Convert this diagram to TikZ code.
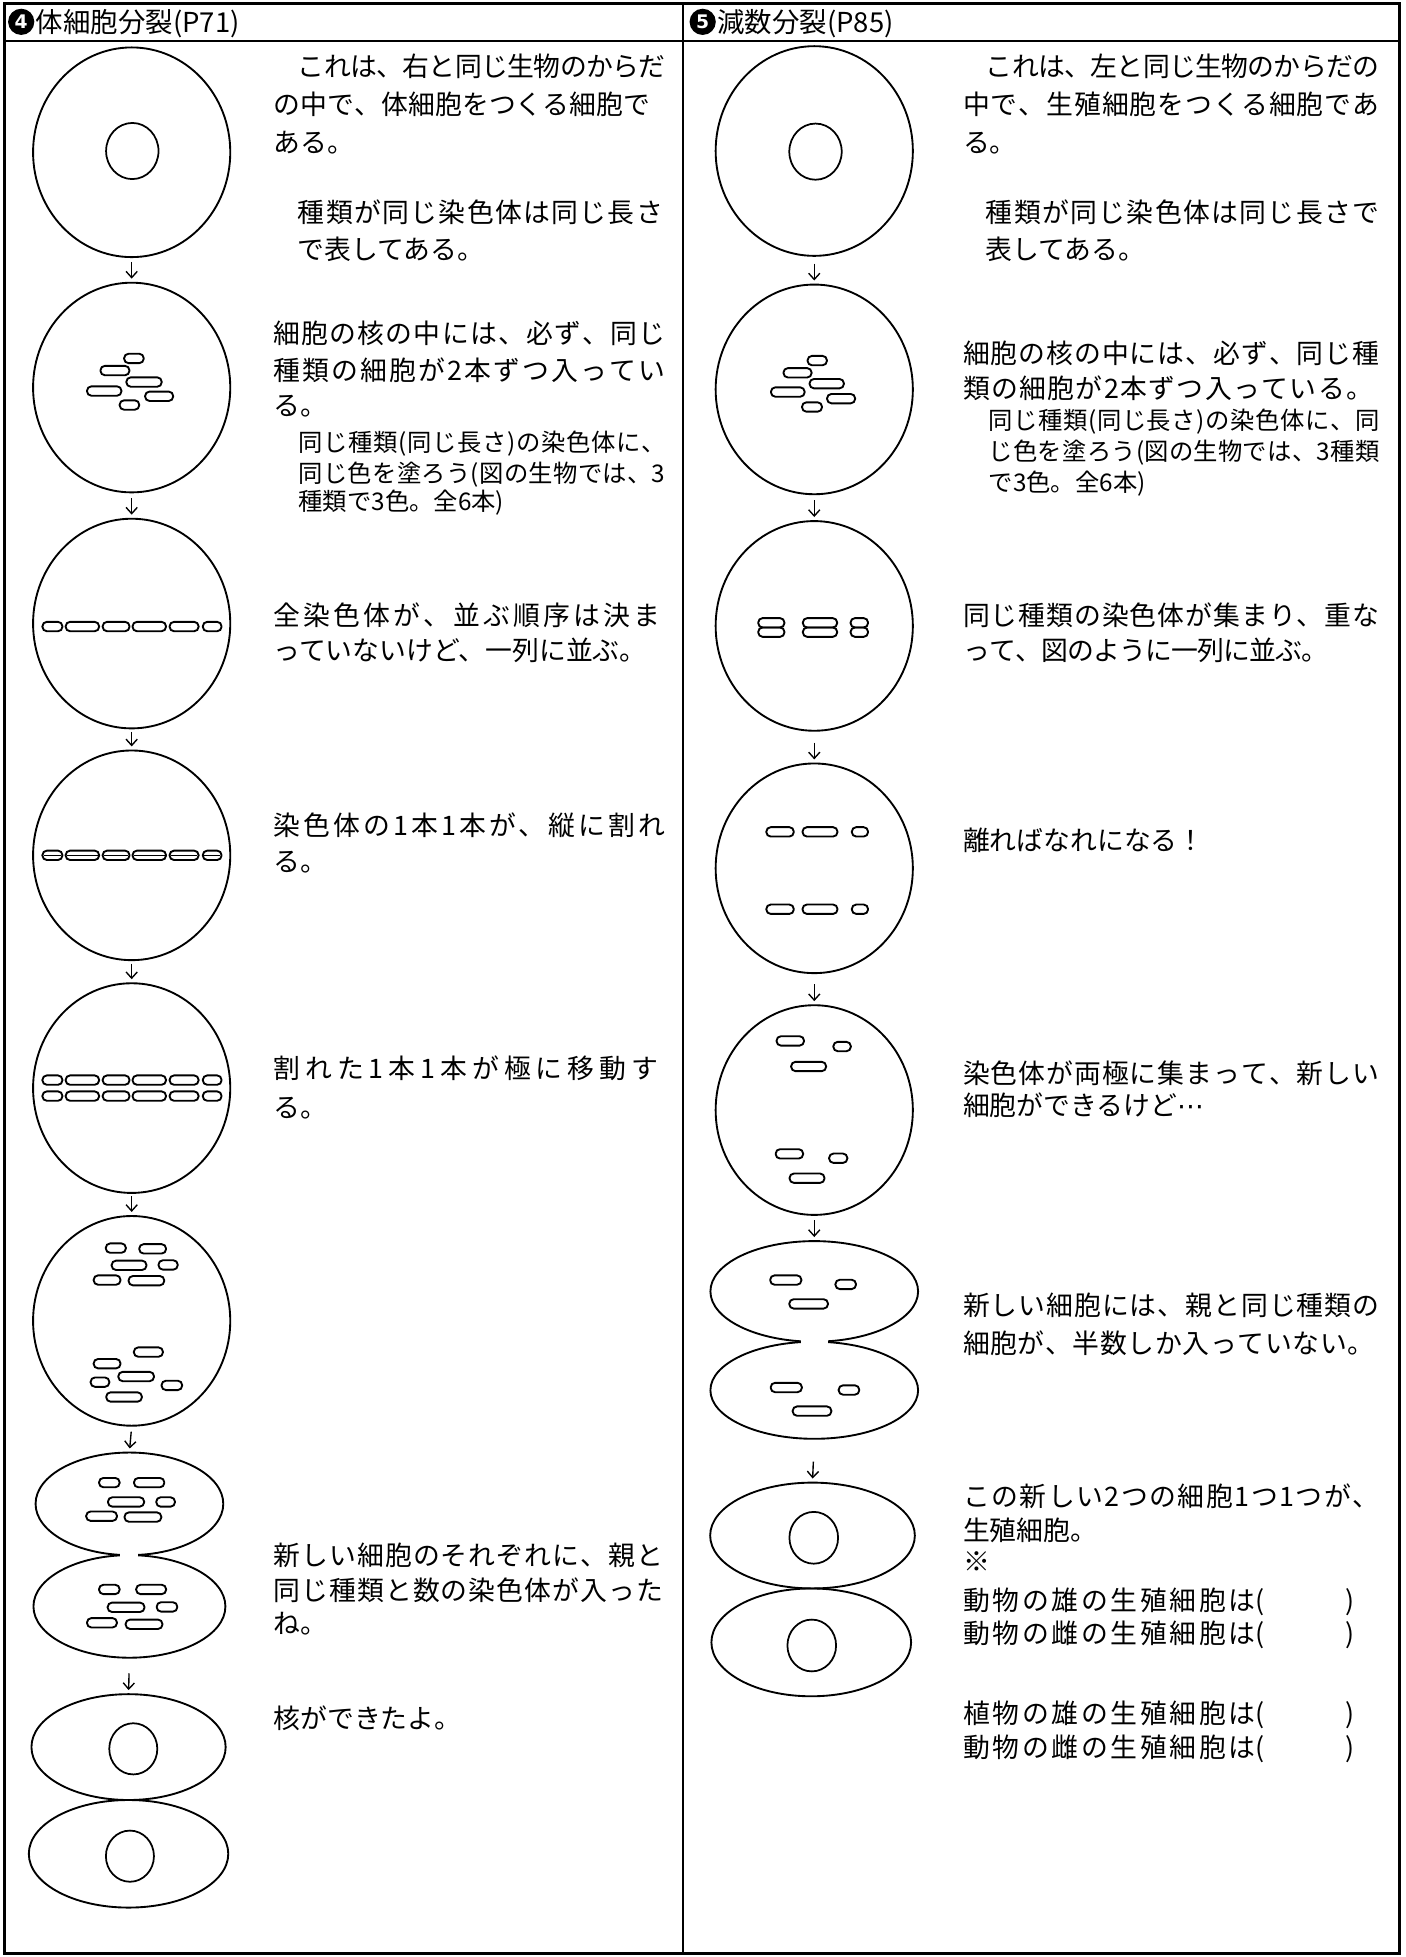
\documentclass[tikz,border=0pt]{standalone}
\usepackage{fontspec}
\setmainfont{Noto Sans CJK JP}
\newfontfamily\djv{DejaVu Sans}
\usetikzlibrary{shapes.geometric,arrows.meta}

% spread the characters of one line evenly over a given width
\def\spEnd{spEndMarker}
\newcommand\spreadto[2]{\hbox to #1{\spA#2\spEnd}}
\def\spA#1{#1\spB}
\def\spB#1{\ifx#1\spEnd\else\hskip 0pt plus 1fil minus 1fil\relax#1\expandafter\spB\fi}

% chromosome: centre x, centre y, length
\newcommand\chro[3]{\draw[chr] ({#1-#3/2},{#2-3.75}) rectangle ({#1+#3/2},{#2+3.75});}
% chromosome split lengthwise
\newcommand\chrs[3]{\chro{#1}{#2}{#3}\draw[line width=1.1pt] ({#1-#3/2+1},#2) -- ({#1+#3/2-1},#2);}
% the six chromosomes lined up on the equator (#1 = y, #2 = drawing macro)
\newcommand\sixrow[2]{#2{42}{#1}{16}#2{66}{#1}{26.8}#2{93}{#1}{21.5}#2{119.6}{#1}{26.8}#2{147.5}{#1}{23.2}#2{170}{#1}{15}}
% centred ellipsis
\newcommand\mdots{{\djv\fontsize{21.5pt}{21.5pt}\selectfont ⋯}}

\tikzset{
  cell/.style={ellipse, draw, line width=1.5pt, minimum width=158pt, minimum height=168pt, inner sep=0pt},
  halfcell/.style={ellipse, draw, line width=1.5pt, inner sep=0pt},
  nuc/.style={ellipse, draw, line width=1.4pt, inner sep=0pt},
  chr/.style={line width=1.5pt, rounded corners=3.5pt},
  arr/.style={line width=1.1pt, -{Straight Barb[length=5pt,width=9pt]}, shorten >=2.5pt},
  txt/.style={anchor=west, inner sep=0pt, font=\fontsize{21.5pt}{21.5pt}\selectfont, text height=17.8pt, text depth=1.5pt},
  sml/.style={anchor=west, inner sep=0pt, font=\fontsize{19.5pt}{19.5pt}\selectfont, text height=16.2pt, text depth=1.4pt},
  hdr/.style={anchor=west, inner sep=0pt, font=\fontsize{22pt}{22pt}\selectfont, text height=18.2pt, text depth=1.5pt},
  badge/.style={circle, fill=black, text=white, inner sep=0pt, minimum size=21pt, font=\djv\bfseries\fontsize{15pt}{15pt}\selectfont},
  paren/.style={anchor=center, inner sep=0pt, font=\fontsize{21.5pt}{21.5pt}\selectfont, text height=17.8pt, text depth=1.5pt},
}

\begin{document}
\begin{tikzpicture}[x=1pt,y=-1pt]
\useasboundingbox (0,0) rectangle (1126,1568);
\fill[white] (0,0) rectangle (1126,1568);

% ---------- table frame ----------
\draw[line width=2.6pt] (3.5,3) rectangle (1121,1565);
\draw[line width=2pt] (3.5,33) -- (1121,33);
\draw[line width=2pt] (547.3,3) -- (547.3,1565);

% ---------- headers ----------
\node[badge] (b4) at (17,17.5) {4};
\node[hdr] (h4) at (28.5,17.5) {体細胞分裂(P71)};
\node[badge] (b5) at (563,17.5) {5};
\node[hdr] (h5) at (574.5,17.5) {減数分裂(P85)};

% =========== left column: body cell division ===========
\node[cell] (L1) at (105.5,122) {};
\node[nuc, minimum width=42pt, minimum height=45pt] (L1n) at (106,121) {};
\node[cell] (L2) at (105.5,310.5) {};
\node[cell] (L3) at (105.5,499.6) {};
\node[cell] (L4) at (105.5,685.3) {};
\node[cell] (L5) at (105.5,871.8) {};
\node[cell] (L6) at (105.5,1058.3) {};
\node[halfcell, minimum width=150.4pt, minimum height=82.2pt] (L7u) at (103.7,1204.9) {};
\node[halfcell, minimum width=153.8pt, minimum height=82.2pt] (L7l) at (103.7,1287.1) {};
\fill[white] (96.5,1243.5) rectangle (110.9,1248.5);
\node[halfcell, minimum width=155.6pt, minimum height=84.8pt] (L8u) at (103,1399.8) {};
\node[halfcell, minimum width=159.8pt, minimum height=86.2pt] (L8l) at (103,1485.3) {};
\node[nuc, minimum width=38.5pt, minimum height=41pt] (L8un) at (106.8,1401.2) {};
\node[nuc, minimum width=38.5pt, minimum height=41pt] (L8ln) at (104.1,1487.2) {};

\draw[arr, shorten <=3pt] (L1.south) -- (L2.north);
\draw[arr, shorten <=3.6pt] (L2.south) -- (L3.north);
\draw[arr, shorten <=2pt] (L3.south) -- (L4.north);
\draw[arr, shorten <=2pt] (L4.south) -- (L5.north);
\draw[arr, shorten <=2pt] (L5.south) -- (L6.north);
\draw[arr, shorten <=4pt] (L6.south) -- (L7u.north);
\draw[arr, shorten <=11.7pt] (L7l.south) -- (L8u.north);

% chromosomes in the nucleus
\chro{107.3}{287.2}{15.7}\chro{92.1}{296.9}{23.2}\chro{115.4}{306.1}{28.3}
\chro{83.5}{313.3}{27.6}\chro{127.5}{317.5}{22.5}\chro{103.7}{324.5}{15.7}
% lined up, then split, then separated
\sixrow{502}{\chro}
\sixrow{685.3}{\chrs}
\sixrow{865.4}{\chro}
\sixrow{878.2}{\chro}
% moving to the poles
\chro{92.8}{1000}{16.1}\chro{122.3}{1000.6}{21.5}\chro{103.4}{1013.8}{27.9}
\chro{134.7}{1013.5}{15.4}\chro{85.8}{1025.6}{21.5}\chro{117.3}{1026.1}{28.6}
\chro{118.9}{1083.3}{23.3}\chro{85.8}{1092.6}{21.5}\chro{109.1}{1102.9}{28.6}
\chro{80.1}{1107.4}{15}\chro{137.7}{1110}{16.5}\chro{99.4}{1119.3}{28.6}
% two daughter cells
\chro{87.6}{1187.9}{16.5}\chro{119.5}{1187.9}{24.3}\chro{101}{1203.4}{29}
\chro{132.7}{1203.4}{15}\chro{81.4}{1214.8}{24.7}\chro{114.5}{1215.5}{29.5}
\chro{87.6}{1273.5}{16.5}\chro{121.1}{1273.5}{24}\chro{101}{1287.8}{29.5}
\chro{133.8}{1287.5}{16.5}\chro{81.7}{1300.2}{24}\chro{115.4}{1301.4}{29.5}

% left texts
\node[txt] (a1) at (238.5,53) {\spreadto{294.5pt}{これは、右と同じ生物のからだ}};
\node[txt] (a2) at (219,83.5) {\spreadto{302pt}{の中で、体細胞をつくる細胞で}};
\node[txt] (a3) at (219,114) {ある。};
\node[txt] (a4) at (238.5,170.5) {\spreadto{292.5pt}{種類が同じ染色体は同じ長さ}};
\node[txt] (a5) at (238.5,199.5) {で表してある。};
\node[txt] (a6) at (219,267) {\spreadto{314pt}{細胞の核の中には、必ず、同じ}};
\node[txt] (a7) at (219,296.5) {\spreadto{314pt}{種類の細胞が2本ずつ入ってい}};
\node[txt] (a8) at (219,324.5) {る。};
\node[sml] (a9) at (239,354) {\spreadto{294pt}{同じ種類(同じ長さ)の染色体に、}};
\node[sml] (a10) at (239,379) {\spreadto{294pt}{同じ色を塗ろう(図の生物では、3}};
\node[sml] (a11) at (239,402) {種類で3色。全6本)};
\node[txt] (a12) at (219,493) {\spreadto{310pt}{全染色体が、並ぶ順序は決ま}};
\node[txt] (a13) at (219,521) {っていないけど、一列に並ぶ。};
\node[txt] (a14) at (219,661) {\spreadto{314pt}{染色体の1本1本が、縦に割れ}};
\node[txt] (a15) at (219,690) {る。};
\node[txt] (a16) at (219,856) {\spreadto{308pt}{割れた1本1本が極に移動す}};
\node[txt] (a17) at (219,887) {る。};
\node[txt] (a18) at (219,1246) {\spreadto{312pt}{新しい細胞のそれぞれに、親と}};
\node[txt] (a19) at (219,1274) {\spreadto{312pt}{同じ種類と数の染色体が入った}};
\node[txt] (a20) at (219,1301) {ね。};
\node[txt] (a21) at (219,1377) {核ができたよ。};

% =========== right column: meiosis ===========
\node[cell] (R1) at (652.4,121) {};
\node[nuc, minimum width=42pt, minimum height=45pt] (R1n) at (653.4,121.5) {};
\node[cell] (R2) at (652.4,312) {};
\node[cell] (R3) at (652.4,501.5) {};
\node[cell] (R4) at (652.4,695.7) {};
\node[cell] (R5) at (652.4,889.4) {};
\node[halfcell, minimum width=166.4pt, minimum height=80.6pt] (R6u) at (652.4,1034.7) {};
\node[halfcell, minimum width=166.4pt, minimum height=77.8pt] (R6l) at (652.4,1113.9) {};
\fill[white] (641.4,1072.5) rectangle (663.4,1077.5);
\node[halfcell, minimum width=164pt, minimum height=84.8pt] (R7u) at (651,1230.3) {};
\node[halfcell, minimum width=160pt, minimum height=86.4pt] (R7l) at (650,1315.9) {};
\node[nuc, minimum width=39pt, minimum height=41.5pt] (R7un) at (652,1232.1) {};
\node[nuc, minimum width=39pt, minimum height=41.5pt] (R7ln) at (650.4,1318.4) {};

\draw[arr, shorten <=5.5pt] (R1.south) -- (R2.north);
\draw[arr, shorten <=4pt] (R2.south) -- (R3.north);
\draw[arr, shorten <=8.7pt] (R3.south) -- (R4.north);
\draw[arr, shorten <=8.2pt] (R4.south) -- (R5.north);
\draw[arr, shorten <=3.5pt] (R5.south) -- (R6u.north);
\draw[arr, shorten <=17.6pt] (R6l.south) -- (R7u.north);

% chromosomes in the nucleus
\chro{654.8}{288.9}{15.5}\chro{639}{298.7}{22.5}\chro{662.4}{307.4}{27.5}
\chro{631.2}{314.1}{27}\chro{673.9}{319.4}{22.5}\chro{650.6}{326.1}{16}
% homologous pairs side by side
\chro{618}{499}{21}\chro{618}{506.5}{21}
\chro{657}{499}{27.5}\chro{657}{506.5}{27.5}
\chro{688.5}{499}{14}\chro{688.5}{506.5}{14}
% pairs pulled apart
\chro{625}{666.5}{22}\chro{657}{666.5}{28}\chro{689}{666.5}{13}
\chro{625}{728.5}{22}\chro{657}{728.5}{28}\chro{689}{728.5}{13}
% gathered at the poles
\chro{633.2}{834}{22}\chro{674.7}{838.5}{14}\chro{647.9}{854.5}{28}
\chro{632.5}{924.5}{22}\chro{671.6}{928}{14.6}\chro{646.6}{944}{28}
% two new cells
\chro{629.6}{1025.6}{25}\chro{677.6}{1029.1}{16.5}\chro{647.9}{1044.7}{31}
\chro{630}{1111.7}{25}\chro{680.2}{1113.7}{16.5}\chro{650.6}{1130.6}{31}

% right texts
\node[txt] (c1) at (789.7,53) {\spreadto{315.3pt}{これは、左と同じ生物のからだの}};
\node[txt] (c2) at (771.4,83.5) {\spreadto{333.6pt}{中で、生殖細胞をつくる細胞であ}};
\node[txt] (c3) at (771.4,114) {る。};
\node[txt] (c4) at (789.7,170.5) {\spreadto{315.3pt}{種類が同じ染色体は同じ長さで}};
\node[txt] (c5) at (789.7,199.5) {表してある。};
\node[txt] (c6) at (771.4,283) {\spreadto{333.6pt}{細胞の核の中には、必ず、同じ種}};
\node[txt] (c7) at (771.4,311) {\spreadto{328.6pt}{類の細胞が2本ずつ入っている。}};
\node[sml] (c8) at (792,337) {\spreadto{313pt}{同じ種類(同じ長さ)の染色体に、同}};
\node[sml] (c9) at (792,361.5) {\spreadto{313pt}{じ色を塗ろう(図の生物では、3種類}};
\node[sml] (c10) at (792,386) {で3色。全6本)};
\node[txt] (c11) at (771.4,493) {\spreadto{333.6pt}{同じ種類の染色体が集まり、重な}};
\node[txt] (c12) at (771.4,521) {\spreadto{292.6pt}{って、図のように一列に並ぶ。}};
\node[txt] (c13) at (771.4,673) {離ればなれになる！};
\node[txt] (c14) at (771.4,860) {\spreadto{333.6pt}{染色体が両極に集まって、新しい}};
\node[txt] (c15) at (771.4,886) {細胞ができるけど\mdots};
\node[txt] (c16) at (771.4,1046) {\spreadto{333.6pt}{新しい細胞には、親と同じ種類の}};
\node[txt] (c17) at (771.4,1076) {\spreadto{329.6pt}{細胞が、半数しか入っていない。}};
\node[txt] (c18) at (771.4,1199) {\spreadto{333.6pt}{この新しい2つの細胞1つ1つが、}};
\node[txt] (c19) at (771.4,1226) {生殖細胞。};
\node[txt] (c20) at (771.4,1251) {※};
\node[txt] (c21) at (771.4,1282) {\spreadto{234.6pt}{動物の雄の生殖細胞は}(};
\node[paren] (p21) at (1082,1282) {)};
\node[txt] (c22) at (771.4,1309) {\spreadto{234.6pt}{動物の雌の生殖細胞は}(};
\node[paren] (p22) at (1082,1309) {)};
\node[txt] (c23) at (771.4,1373) {\spreadto{234.6pt}{植物の雄の生殖細胞は}(};
\node[paren] (p23) at (1082,1373) {)};
\node[txt] (c24) at (771.4,1400) {\spreadto{234.6pt}{動物の雌の生殖細胞は}(};
\node[paren] (p24) at (1082,1400) {)};
\end{tikzpicture}
\end{document}
